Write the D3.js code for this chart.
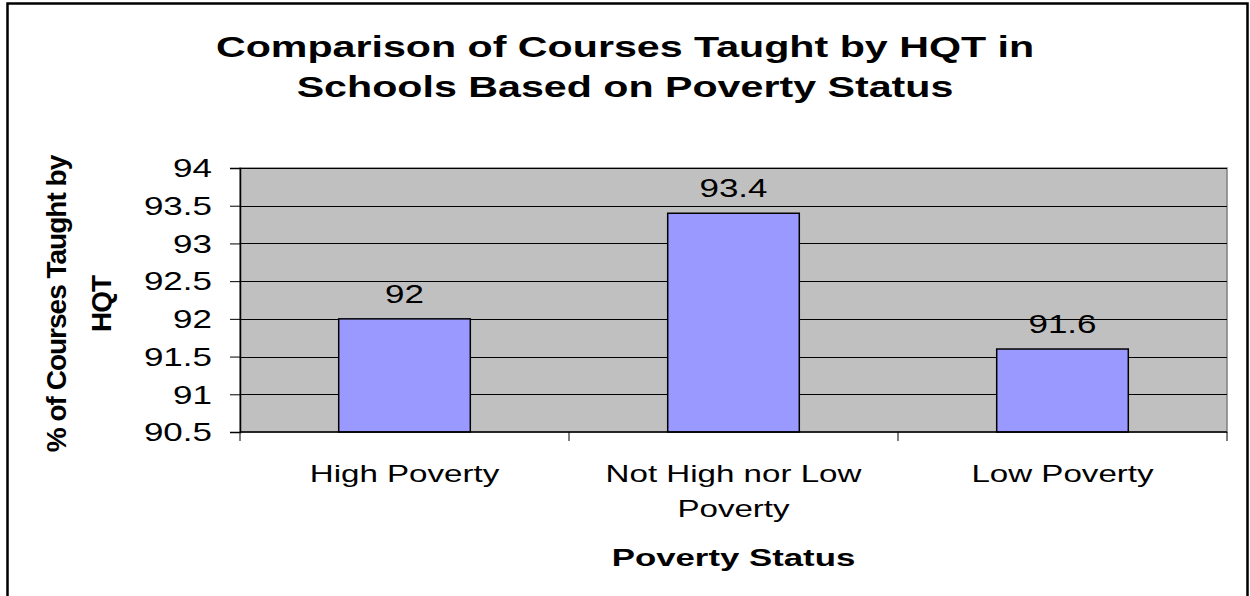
<!DOCTYPE html>
<html>
<head>
<meta charset="utf-8">
<script src="https://cdn.jsdelivr.net/npm/d3@7"></script>
<style>
body { margin: 0; background: #fff; }
text { font-family: Arial, "Liberation Sans", sans-serif; fill: #000; }
</style>
</head>
<body>
<div id="graphId"></div>
<script>
var categories = [["High Poverty"], ["Not High nor Low", "Poverty"], ["Low Poverty"]];
var values = [92, 93.4, 91.6];
var yTicks = [90.5, 91, 91.5, 92, 92.5, 93, 93.5, 94];
var titleLines = ["Comparison of Courses Taught by HQT in", "Schools Based on Poverty Status"];
var yTitleLines = ["% of Courses Taught by", "HQT"];
var xTitle = "Poverty Status";

var wt = 1250;
var ht = 596;
var margin = {
    top: 168,
    right: 23,
    bottom: 164,
    left: 240
};
var width = wt - margin.left - margin.right;
var height = ht - margin.top - margin.bottom;
// the original text is rendered wide, so stretch it horizontally
var stretch = 1.4;

var svg = d3.select("#graphId").append("svg")
    .attr("width", wt)
    .attr("height", ht);

// outer chart border
svg.append("rect")
    .attr("x", 7.5)
    .attr("y", 3.5)
    .attr("width", 1240)
    .attr("height", 596)
    .attr("fill", "#fff")
    .attr("stroke", "#000")
    .attr("stroke-width", 2.5);

var g = svg.append("g")
    .attr("transform", "translate(" + margin.left + "," + margin.top + ")");

var x = d3.scaleBand()
    .domain(d3.range(categories.length))
    .range([0, width])
    .paddingInner(0.6)
    .paddingOuter(0.3);

var xOuter = d3.scaleBand()
    .domain(d3.range(categories.length))
    .range([0, width]);

var y = d3.scaleLinear()
    .domain([90.5, 94])
    .range([height, 0]);

// plot background
g.append("rect")
    .attr("width", width)
    .attr("height", height)
    .attr("fill", "#c0c0c0")
    .attr("stroke", "#808080")
    .attr("stroke-width", 1.5);

// gridlines
g.selectAll(".grid")
    .data(yTicks.slice(1))
    .enter().append("line")
    .attr("class", "grid")
    .attr("x1", 0)
    .attr("x2", width)
    .attr("y1", function (d) { return Math.round(y(d)) + 0.5; })
    .attr("y2", function (d) { return Math.round(y(d)) + 0.5; })
    .attr("stroke", "#000")
    .attr("stroke-width", 1);

// bars
g.selectAll(".bar")
    .data(values)
    .enter().append("rect")
    .attr("class", "bar")
    .attr("x", function (d, i) { return x(i); })
    .attr("width", x.bandwidth())
    .attr("y", function (d) { return y(d); })
    .attr("height", function (d) { return height - y(d); })
    .attr("fill", "#9999ff")
    .attr("stroke", "#000")
    .attr("stroke-width", 1.5);

// value labels
g.selectAll(".val")
    .data(values)
    .enter().append("text")
    .attr("class", "val")
    .attr("transform", function (d, i) {
        return "translate(" + (x(i) + x.bandwidth() / 2) + "," + (y(d) - 16) + ") scale(" + stretch + ",1)";
    })
    .attr("text-anchor", "middle")
    .style("font-size", "25px")
    .text(function (d) { return d; });

// y axis
var yAxis = g.append("g")
    .attr("class", "axis axis--y")
    .call(d3.axisLeft(y).tickValues(yTicks).tickSize(10).tickFormat(""));
yAxis.select(".domain").attr("stroke", "#000").attr("stroke-width", 1.5);
yAxis.selectAll(".tick line").attr("stroke", "#000");
yAxis.selectAll(".tick").append("text")
    .attr("transform", "translate(-28,0) scale(" + stretch + ",1)")
    .attr("x", 0)
    .attr("dy", "0.35em")
    .attr("text-anchor", "end")
    .style("font-size", "25px")
    .text(function (d) { return d; });

// x axis
var xAxis = g.append("g")
    .attr("class", "axis axis--x")
    .attr("transform", "translate(0," + height + ")");
xAxis.append("line")
    .attr("x1", 0).attr("x2", width)
    .attr("stroke", "#000").attr("stroke-width", 1.5);
xAxis.selectAll(".xtick")
    .data(d3.range(categories.length + 1))
    .enter().append("line")
    .attr("class", "xtick")
    .attr("x1", function (d) { return d < categories.length ? xOuter(d) : width; })
    .attr("x2", function (d) { return d < categories.length ? xOuter(d) : width; })
    .attr("y1", 0)
    .attr("y2", 9)
    .attr("stroke", "#000");

var catLabel = xAxis.selectAll(".cat")
    .data(categories)
    .enter().append("text")
    .attr("class", "cat")
    .attr("text-anchor", "middle")
    .style("font-size", "24px")
    .attr("transform", function (d, i) {
        return "translate(" + (xOuter(i) + xOuter.bandwidth() / 2) + ",50) scale(1.38,1)";
    });
catLabel.selectAll("tspan")
    .data(function (d) { return d; })
    .enter().append("tspan")
    .attr("x", 0)
    .attr("y", function (d, i) { return i * 35; })
    .text(function (d) { return d; });

// x title
svg.append("text")
    .attr("transform", "translate(" + (margin.left + width / 2) + ",566) scale(1.45,1)")
    .attr("text-anchor", "middle")
    .style("font-size", "24px")
    .style("font-weight", "bold")
    .text(xTitle);

// y title
var yTitle = svg.append("text")
    .attr("transform", "translate(0," + (margin.top + height / 2 + 4) + ") rotate(-90)")
    .attr("text-anchor", "middle")
    .style("font-size", "28px")
    .style("font-weight", "bold");
yTitle.selectAll("tspan")
    .data(yTitleLines)
    .enter().append("tspan")
    .attr("x", 0)
    .attr("y", function (d, i) { return 66 + i * 45; })
    .attr("letter-spacing", "-1px")
    .text(function (d) { return d; });

// chart title
var title = svg.append("text")
    .attr("transform", "translate(625,0) scale(1.42,1)")
    .attr("text-anchor", "middle")
    .style("font-size", "29px")
    .style("font-weight", "bold");
title.selectAll("tspan")
    .data(titleLines)
    .enter().append("tspan")
    .attr("x", 0)
    .attr("y", function (d, i) { return 57 + i * 40; })
    .text(function (d) { return d; });
</script>
</body>
</html>
